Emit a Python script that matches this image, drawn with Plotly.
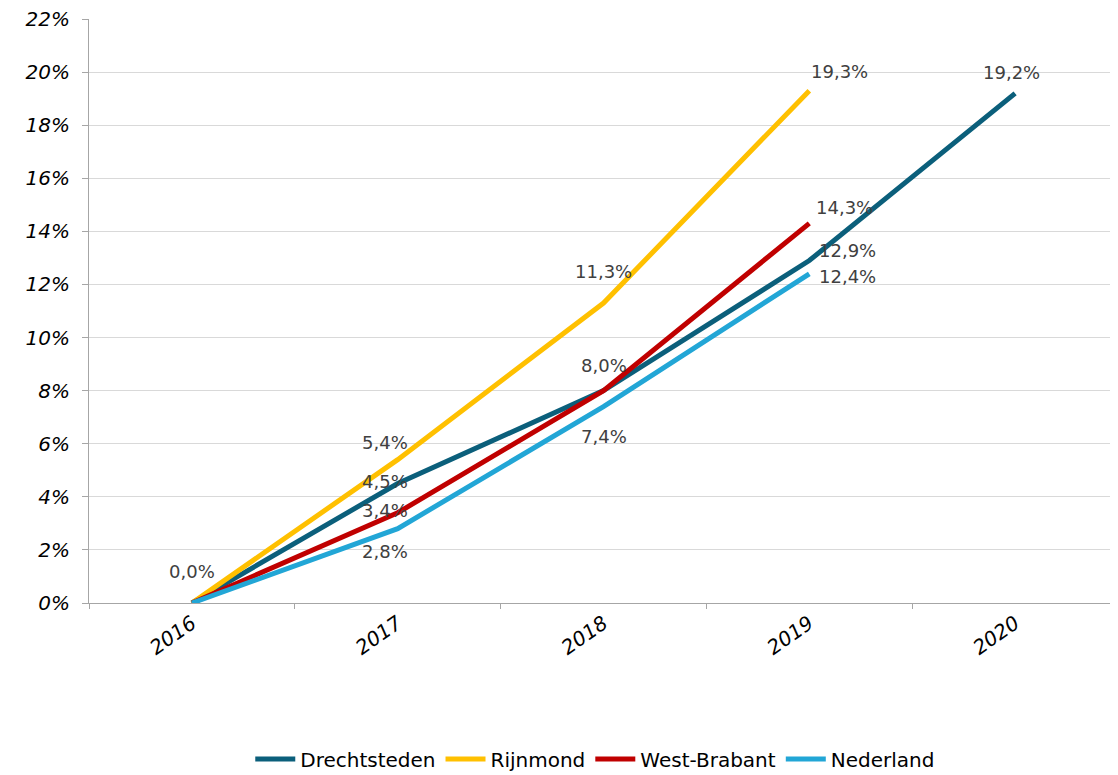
import plotly.graph_objects as go

years = ["2016", "2017", "2018", "2019", "2020"]
drechtsteden = [0.0, 4.5, 8.0, 12.9, 19.2]
rijnmond = [0.0, 5.4, 11.3, 19.3]
west_brabant = [0.0, 3.4, 8.0, 14.3]
nederland = [0.0, 2.8, 7.4, 12.4]
y_ticks = list(range(0, 23, 2))

series = [
    ("Drechtsteden", drechtsteden, "#0b5f7b"),
    ("Rijnmond", rijnmond, "#ffc000"),
    ("West-Brabant", west_brabant, "#c00000"),
    ("Nederland", nederland, "#22a6d6"),
]

# label offsets (xshift, yshift) per point; None = label hidden (overlaps)
offsets = {
    "Drechtsteden": [(0, 32), (-13, 2), (0, 25), (38, 10), (-4, 21)],
    "Rijnmond": [None, (-13, 17), (0, 32), (30, 19)],
    "West-Brabant": [None, (-13, 2), None, (35, 16)],
    "Nederland": [None, (-13, -23), (0, -30), (38, -3)],
}

fig = go.Figure()
annotations = []
for name, vals, color in series:
    xs = years[:len(vals)]
    fig.add_trace(go.Scatter(
        x=xs, y=vals, name=name, mode="lines",
        line=dict(color=color, width=5),
    ))
    for i, (v, off) in enumerate(zip(vals, offsets[name])):
        if off is None:
            continue
        annotations.append(dict(
            x=i, y=v, xref="x", yref="y", text=f"{v:.1f}%".replace(".", ","),
            showarrow=False, xshift=off[0], yshift=off[1],
            font=dict(family="DejaVu Sans", size=18, color="#404040"),
        ))

fig.update_layout(
    width=1118, height=775,
    margin=dict(l=81, r=8, t=11, b=180, autoexpand=False),
    plot_bgcolor="white", paper_bgcolor="white",
    font=dict(family="DejaVu Sans", size=18, color="#000000"),
    annotations=annotations,
    showlegend=True,
    legend=dict(orientation="h", x=0.492, xanchor="center",
                yref="container", y=0.031, yanchor="middle",
                font=dict(size=20, color="#000000"), itemwidth=40,
                tracegroupgap=0),
)
fig.update_xaxes(
    type="category", range=[-0.5, 4.5], tickangle=-35,
    showline=True, linecolor="#a6a6a6", linewidth=1,
    ticks="outside", tickson="boundaries", ticklen=5, tickcolor="#a6a6a6",
    showgrid=False,
    tickfont=dict(family="DejaVu Sans", size=20),
    tickmode="array", tickvals=years, ticktext=[f"<i>{y}</i>" for y in years],
)
fig.update_yaxes(
    range=[0, 22], tickmode="array", tickvals=y_ticks,
    ticktext=[f"<i>{t}%</i>" for t in y_ticks],
    showline=True, linecolor="#a6a6a6", linewidth=1,
    ticks="outside", ticklen=6, tickcolor="#a6a6a6",
    showgrid=True, gridcolor="#d9d9d9", gridwidth=1,
    zeroline=False, ticklabelstandoff=8, ticklabeloverflow="allow",
    tickfont=dict(family="DejaVu Sans", size=20),
)
fig.write_html("out.html")
